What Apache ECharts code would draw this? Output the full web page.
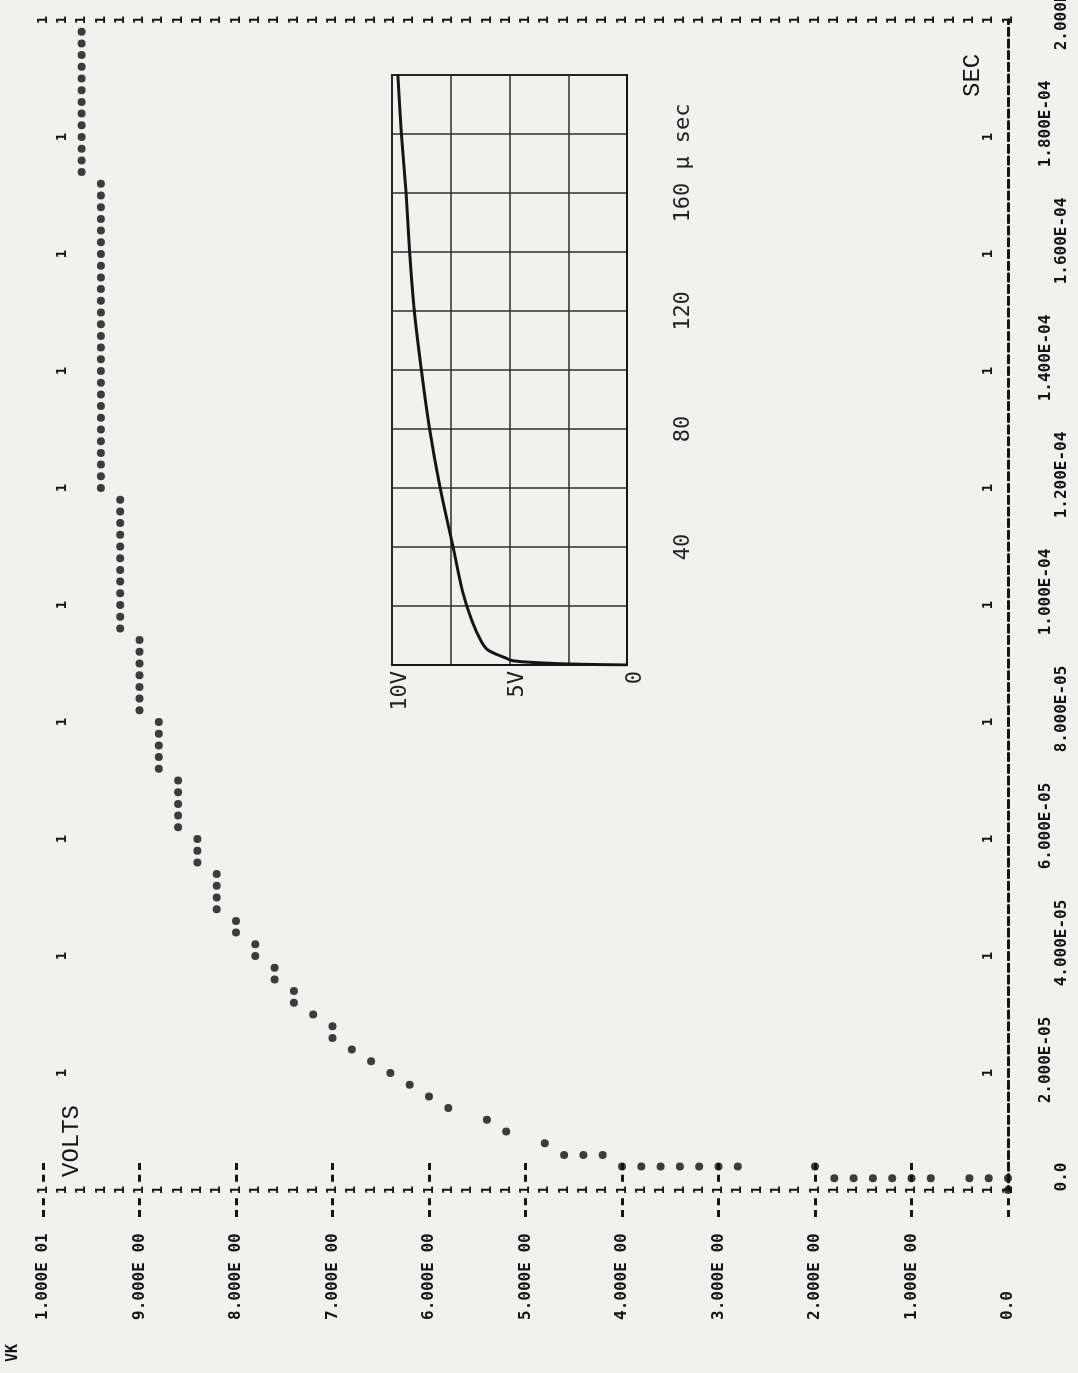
<!DOCTYPE html>
<html>
<head>
<meta charset="utf-8">
<title>VK</title>
<script src="https://cdn.jsdelivr.net/npm/echarts@6.0.0/dist/echarts.min.js"></script>
<style>
	html,
	body {
		margin: 0;
		padding: 0;
		background: #f1f1ef;
	}
	#vkPlot {
		width: 1078px;
		height: 1373px;
	}
</style>
</head>
<body>
<div id="vkPlot"></div>
<script>
// line printer plot, page turned on its side: volts run right to left, time runs up
// time in microseconds, volts as printed (0.2 V per print line)
const riseTimeUs = [0, 2, 2, 2, 2, 2, 2, 2, 2, 2, 4, 4, 4, 4, 4, 4, 4, 4, 6, 6, 6]
const riseVolts = [0, 0, 0.2, 0.4, 0.8, 1.0, 1.2, 1.4, 1.6, 1.8, 2.0, 2.8, 3.0, 3.2, 3.4, 3.6, 3.8, 4.0, 4.2, 4.4, 4.6]

const chargeTimeUs = [
	8, 10, 12, 14, 16, 18, 20, 22, 24, 26, 28, 30, 32, 34, 36, 38, 40, 42, 44, 46,
	48, 50, 52, 54, 56, 58, 60, 62, 64, 66, 68, 70, 72, 74, 76, 78, 80, 82, 84, 86,
	88, 90, 92, 94, 96, 98, 100, 102, 104, 106, 108, 110, 112, 114, 116, 118, 120, 122, 124, 126,
	128, 130, 132, 134, 136, 138, 140, 142, 144, 146, 148, 150, 152, 154, 156, 158, 160, 162, 164, 166,
	168, 170, 172, 174, 176, 178, 180, 182, 184, 186, 188, 190, 192, 194, 196, 198,
]
const chargeVolts = [
	4.8, 5.2, 5.4, 5.8, 6.0, 6.2, 6.4, 6.6, 6.8, 7.0, 7.0, 7.2, 7.4, 7.4, 7.6, 7.6, 7.8, 7.8, 8.0, 8.0,
	8.2, 8.2, 8.2, 8.2, 8.4, 8.4, 8.4, 8.6, 8.6, 8.6, 8.6, 8.6, 8.8, 8.8, 8.8, 8.8, 8.8, 9.0, 9.0, 9.0,
	9.0, 9.0, 9.0, 9.0, 9.2, 9.2, 9.2, 9.2, 9.2, 9.2, 9.2, 9.2, 9.2, 9.2, 9.2, 9.2, 9.4, 9.4, 9.4, 9.4,
	9.4, 9.4, 9.4, 9.4, 9.4, 9.4, 9.4, 9.4, 9.4, 9.4, 9.4, 9.4, 9.4, 9.4, 9.4, 9.4, 9.4, 9.4, 9.4, 9.4,
	9.4, 9.4, 9.4, 9.6, 9.6, 9.6, 9.6, 9.6, 9.6, 9.6, 9.6, 9.6, 9.6, 9.6, 9.6, 9.6,
]

const voltTickLabels = ['0.0', '1.000E 00', '2.000E 00', '3.000E 00', '4.000E 00', '5.000E 00', '6.000E 00', '7.000E 00', '8.000E 00', '9.000E 00', '1.000E 01']
const timeTickLabels = ['0.0', '2.000E-05', '4.000E-05', '6.000E-05', '8.000E-05', '1.000E-04', '1.200E-04', '1.400E-04', '1.600E-04', '1.800E-04', '2.000E-04']

// oscilloscope trace pasted on the page
const scopeTimeUs = [0, 0.3, 1, 1.5, 2.5, 5, 8, 15, 25, 40, 60, 80, 100, 120, 140, 160, 180, 200]
const scopeVolts = [0, 2.4, 4.3, 4.9, 5.2, 5.9, 6.2, 6.6, 7.0, 7.4, 7.95, 8.4, 8.75, 9.05, 9.25, 9.4, 9.6, 9.75]
const scopeVoltTicks = [0, 5, 10]
const scopeVoltLabels = ['0', '5V', '10V']
const scopeTimeTicks = [40, 80, 120, 160]
const scopeTimeLabels = ['40', '80', '120', '160 µ sec']

const ink = '#151515'

const printText = (size = 16) => ({
	color: ink,
	fontFamily: "'DejaVu Sans Mono', 'Liberation Mono', monospace",
	fontWeight: 'bold',
	fontSize: size,
})

const scopeText = {
	color: '#222',
	fontFamily: "'DejaVu Sans Mono', monospace",
	fontWeight: 'normal',
	fontSize: 22,
}

// the rows of "1" printed along the volt borders
const borderGlyphAxis = (position) => ({
	type: 'value',
	gridIndex: 0,
	position: position,
	min: 0,
	max: 10,
	interval: 0.2,
	inverse: true,
	axisLine: { show: false },
	axisTick: { show: false },
	splitLine: { show: false },
	axisLabel: {
		...printText(14),
		rotate: 90,
		align: 'center',
		verticalAlign: 'middle',
		margin: 0,
		formatter: () => '1',
	},
})

// the "1" marks one column inside the time borders
const timeGlyphAxis = (position) => ({
	type: 'value',
	gridIndex: 0,
	position: position,
	offset: -19.3,
	min: 0,
	max: 200,
	interval: 20,
	axisLine: { show: false },
	axisTick: { show: false },
	splitLine: { show: false },
	axisLabel: {
		...printText(14),
		rotate: 90,
		align: 'center',
		verticalAlign: 'middle',
		margin: 0,
		formatter: (v) => (v > 0 && v < 200 ? '1' : ''),
	},
})

// "--" marks at every volt, next to the top and bottom borders
const voltTickStyle = {
	show: true,
	inside: true,
	length: 27,
	lineStyle: { color: ink, width: 3, type: [0, 8.3, 7, 4.7, 7, 10] },
}

const dashedBorder = {
	show: true,
	lineStyle: { color: ink, width: 3, type: [7, 4.7], dashOffset: 3.5 },
}

const vkChart = echarts.init(document.getElementById('vkPlot'))

vkChart.setOption({
	animation: false,
	backgroundColor: '#f1f1ef',
	grid: [
		{ left: 43, right: 70, top: 20, bottom: 183, outerBoundsMode: 'none' },
		{
			left: 392,
			right: 451,
			top: 75,
			bottom: 708,
			show: true,
			borderColor: ink,
			borderWidth: 2,
			backgroundColor: 'transparent',
			outerBoundsMode: 'none',
		},
	],
	xAxis: [
		{
			type: 'value',
			gridIndex: 0,
			position: 'bottom',
			min: 0,
			max: 10,
			interval: 1,
			inverse: true,
			axisLine: { show: false },
			splitLine: { show: false },
			axisTick: voltTickStyle,
			axisLabel: {
				...printText(16),
				rotate: 90,
				align: 'left',
				verticalAlign: 'middle',
				margin: 130,
				formatter: (v) => voltTickLabels[Math.round(v)],
			},
		},
		{
			type: 'value',
			gridIndex: 0,
			position: 'top',
			min: 0,
			max: 10,
			interval: 1,
			inverse: true,
			axisLine: { show: false },
			splitLine: { show: false },
			axisTick: voltTickStyle,
			axisLabel: { show: false },
		},
		borderGlyphAxis('bottom'),
		borderGlyphAxis('top'),
		{
			type: 'value',
			gridIndex: 1,
			min: 0,
			max: 10,
			interval: 2.5,
			inverse: true,
			axisLine: { show: true, lineStyle: { color: ink, width: 2 } },
			axisTick: { show: false },
			splitLine: { show: true, lineStyle: { color: '#2b2b2b', width: 1.5 } },
			axisLabel: {
				...scopeText,
				rotate: 90,
				margin: 6,
				formatter: (v) => {
					const i = scopeVoltTicks.indexOf(v)
					return i < 0 ? '' : '{s|' + scopeVoltLabels[i] + '}'
				},
				rich: {
					s: { ...scopeText, padding: [16, 0, 0, 0] },
				},
			},
		},
	],
	yAxis: [
		{
			type: 'value',
			gridIndex: 0,
			position: 'right',
			min: 0,
			max: 200,
			interval: 20,
			axisLine: dashedBorder,
			axisTick: { show: false },
			splitLine: { show: false },
			axisLabel: {
				...printText(16),
				rotate: 90,
				align: 'center',
				verticalAlign: 'middle',
				margin: 46,
				formatter: (v) => {
					const i = Math.round(v / 20)
					return (i % 2 ? '{a|' : '{b|') + timeTickLabels[i] + '}'
				},
				rich: {
					a: { ...printText(16), padding: [0, 0, 16, 26] },
					b: { ...printText(16), padding: [16, 0, 0, 26] },
				},
			},
		},
		{
			type: 'value',
			gridIndex: 0,
			position: 'left',
			min: 0,
			max: 200,
			interval: 20,
			axisLine: dashedBorder,
			axisTick: { show: false },
			splitLine: { show: false },
			axisLabel: { show: false },
		},
		timeGlyphAxis('left'),
		timeGlyphAxis('right'),
		{
			type: 'value',
			gridIndex: 1,
			position: 'right',
			min: 0,
			max: 200,
			interval: 20,
			axisLine: { show: true, lineStyle: { color: ink, width: 2 } },
			axisTick: { show: false },
			splitLine: { show: true, lineStyle: { color: '#2b2b2b', width: 1.5 } },
			axisLabel: {
				...scopeText,
				rotate: 90,
				align: 'center',
				verticalAlign: 'middle',
				margin: 56,
				formatter: (v) => {
					const i = scopeTimeTicks.indexOf(v)
					if (i < 0) return ''
					return i === scopeTimeTicks.length - 1 ? '{u|' + scopeTimeLabels[i] + '}' : scopeTimeLabels[i]
				},
				rich: {
					u: { ...scopeText, padding: [0, 0, 0, 60] },
				},
			},
		},
	],
	graphic: [
		{
			type: 'text',
			x: 72,
			y: 1177,
			rotation: Math.PI / 2,
			style: {
				text: 'VOLTS',
				fill: ink,
				font: "24px 'Liberation Mono'",
				align: 'left',
				verticalAlign: 'middle',
				textAlign: 'left',
				textVerticalAlign: 'middle',
			},
		},
		{
			type: 'text',
			x: 973,
			y: 97,
			rotation: Math.PI / 2,
			style: {
				text: 'SEC',
				fill: ink,
				font: "24px 'Liberation Mono'",
				align: 'left',
				verticalAlign: 'middle',
				textAlign: 'left',
				textVerticalAlign: 'middle',
			},
		},
		{
			type: 'text',
			x: 13,
			y: 1362,
			rotation: Math.PI / 2,
			style: {
				text: 'VK',
				fill: ink,
				font: "bold 15px 'DejaVu Sans Mono'",
				align: 'left',
				verticalAlign: 'middle',
				textAlign: 'left',
				textVerticalAlign: 'middle',
			},
		},
	],
	series: [
		{
			name: 'VK',
			type: 'scatter',
			xAxisIndex: 0,
			yAxisIndex: 0,
			symbol: 'circle',
			symbolSize: 8,
			itemStyle: { color: '#0f0f0f' },
			data: riseTimeUs
				.map((t, i) => [riseVolts[i], t])
				.concat(chargeTimeUs.map((t, i) => [chargeVolts[i], t])),
		},
		{
			name: 'scope',
			type: 'line',
			xAxisIndex: 4,
			yAxisIndex: 4,
			showSymbol: false,
			smooth: 0.3,
			lineStyle: { color: ink, width: 3 },
			data: scopeTimeUs.map((t, i) => [scopeVolts[i], t]),
		},
	],
})

window.addEventListener('resize', () => {
	vkChart && vkChart.resize()
})
</script>
</body>
</html>
